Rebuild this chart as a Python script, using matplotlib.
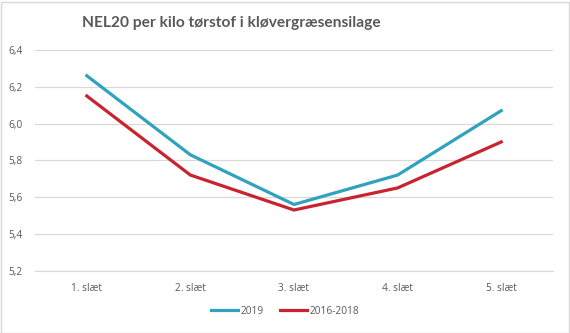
import matplotlib
matplotlib.use("Agg")
import matplotlib.pyplot as plt
from matplotlib.patches import Rectangle

categories = ["1. slæt", "2. slæt", "3. slæt", "4. slæt", "5. slæt"]
series_2019 = [6.26, 5.83, 5.56, 5.72, 6.07]
series_2016_2018 = [6.15, 5.72, 5.53, 5.65, 5.90]
yticks = [5.2, 5.4, 5.6, 5.8, 6.0, 6.2, 6.4]
ytick_labels = ["5,2", "5,4", "5,6", "5,8", "6,0", "6,2", "6,4"]
title = "NEL20 per kilo tørstof i kløvergræsensilage"

plt.rcParams['font.family'] = ['Open Sans', 'DejaVu Sans']

fig = plt.figure(figsize=(5.70, 3.33), dpi=100)
ax = fig.add_axes([35/570, 1 - 270.7/333, (553 - 35)/570, (270.7 - 50)/333])

x = list(range(len(categories)))
ax.plot(x, series_2019, color="#2FA2BD", lw=2.3, label="2019", solid_joinstyle="round")
ax.plot(x, series_2016_2018, color="#C8232E", lw=2.3, label="2016-2018", solid_joinstyle="round")

ax.set_xlim(-0.5, len(categories) - 0.5)
ax.set_ylim(5.2, 6.4)
ax.set_yticks(yticks)
ax.set_yticklabels(ytick_labels)
ax.set_xticks(x)
ax.set_xticklabels(categories)
ax.grid(axis="y", color="#D9D9D9", lw=0.9)
ax.set_axisbelow(True)
for s in ["top", "right", "left"]:
    ax.spines[s].set_visible(False)
ax.spines["bottom"].set_color("#D9D9D9")
ax.spines["bottom"].set_linewidth(0.9)
ax.tick_params(axis="both", length=0, labelsize=7.3, colors="#595959")
ax.tick_params(axis="y", pad=9)
ax.tick_params(axis="x", pad=9)

fig.text(82/570, 1 - 23/333, title, fontsize=11.2, fontweight="bold", color="#595959",
         ha="left", va="center", family=["Lato", "DejaVu Sans"])

leg = fig.legend(loc="center", bbox_to_anchor=(285/570, 1 - 311/333), ncol=2, frameon=False,
                 fontsize=7.3, handlelength=2.7, columnspacing=1.6, handletextpad=0.2)
for t in leg.get_texts():
    t.set_color("#595959")

fig.patches.append(Rectangle((0.5/570, 0.5/333), 568/570, 331/333, transform=fig.transFigure,
                             fill=False, edgecolor="#D9D9D9", lw=1))

fig.savefig("out.png", dpi=100)
